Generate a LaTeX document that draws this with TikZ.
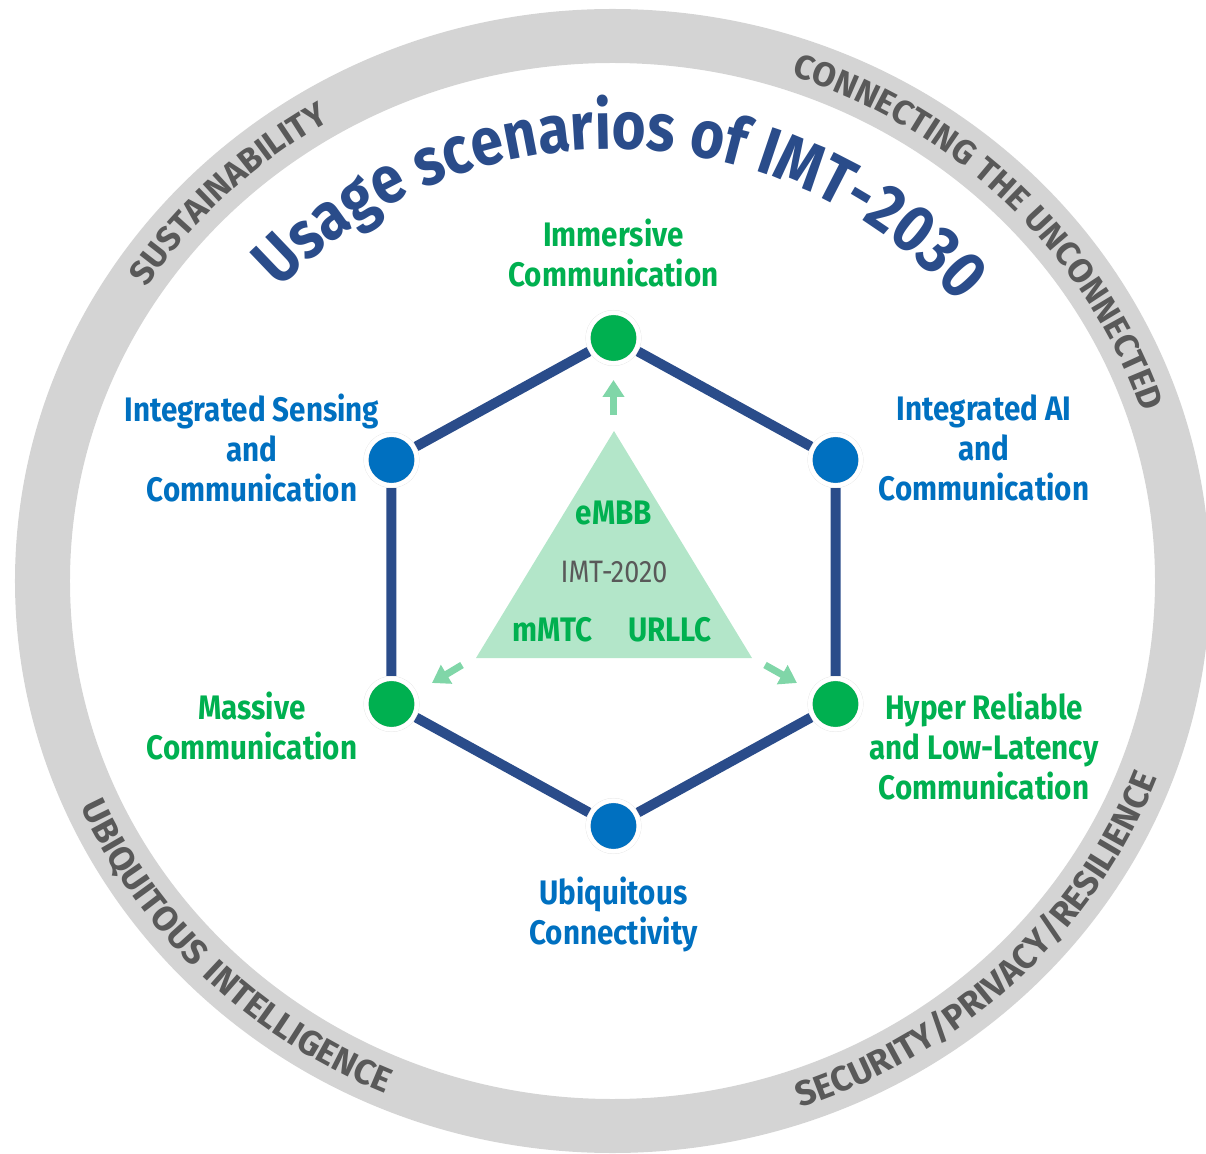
\documentclass[tikz,border=0pt]{standalone}
\usepackage{fontspec}
\setmainfont{Fira Sans}
\newfontfamily\narrowfont[FakeStretch=0.87]{Fira Sans}
\newfontfamily\ringface[LetterSpace=3]{Fira Sans}
\newfontfamily\ringfacewide[LetterSpace=8]{Fira Sans}
\usetikzlibrary{positioning, decorations.text, arrows.meta}

\definecolor{ringgray}{RGB}{212,212,212}
\definecolor{ringtext}{RGB}{89,89,89}
\definecolor{titleblue}{RGB}{42,76,138}
\definecolor{scenblue}{RGB}{0,112,192}
\definecolor{scengreen}{RGB}{0,176,80}
\definecolor{trifill}{RGB}{179,230,201}
\definecolor{growgreen}{RGB}{128,214,168}

\newcommand{\ringfont}{\ringface\bfseries\fontsize{34}{34}\selectfont}
\newcommand{\ringfontlow}{\ringfacewide\bfseries\fontsize{35}{35}\selectfont}
\newcommand{\titlefont}{\narrowfont\bfseries\fontsize{67}{67}\selectfont}

\tikzset{
  scen/.style={circle, fill=#1, draw=black!12, double=white, double distance=4.4pt,
               line width=0.3pt, outer sep=2.6pt, minimum size=51pt, inner sep=0pt},
  scenlabel/.style={text=#1, inner sep=0pt, align=center,
               font=\narrowfont\bfseries\fontsize{34}{40}\selectfont},
  hexedge/.style={draw=titleblue, line width=10pt},
  growarrow/.style={draw=growgreen, line width=7pt,
               -{Triangle[width=21pt,length=17pt]}},
  ringword/.style={decorate, decoration={text along path, text align=center,
               text color=ringtext, text={|\ringfont|#1}}},
  ringwordlow/.style={decorate, decoration={text along path, text align=center,
               text color=ringtext, text={|\ringfontlow|#1}}}
}

\begin{document}
\begin{tikzpicture}[x=1pt, y=1pt]

  \useasboundingbox (-612.5,-572) rectangle (593.5,581);

  % outer ring
  \fill[ringgray, even odd rule] (0,0) ellipse [x radius=597.5, y radius=572]
                                 (0,0) ellipse [x radius=542.5, y radius=518];

  % words on the ring
  \path[ringword=SUSTAINABILITY]
    ({558*cos(174)},{533.5*sin(174)}) arc[start angle=174, end angle=94, x radius=558, y radius=533.5];
  \path[ringword=CONNECTING THE UNCONNECTED]
    ({558*cos(89.5)},{533.5*sin(89.5)}) arc[start angle=89.5, end angle=-0.5, x radius=558, y radius=533.5];
  \path[ringwordlow=UBIQUITOUS INTELLIGENCE]
    ({582*cos(180)},{556.5*sin(180)}) arc[start angle=180, end angle=270, x radius=582, y radius=556.5];
  \path[ringwordlow=SECURITY/PRIVACY/RESILIENCE]
    ({582*cos(269.5)},{556.5*sin(269.5)}) arc[start angle=269.5, end angle=359.5, x radius=582, y radius=556.5];

  % title
  \path[decorate, decoration={text along path, text align=center, text color=titleblue,
        text={|\titlefont|Usage scenarios of IMT-2030}}]
    ({452*cos(148.7)},{432*sin(148.7)}) arc[start angle=148.7, end angle=28.7, x radius=452, y radius=432];

  % the six scenarios
  \node[scen=scengreen] (immersive) at (1,243) {};
  \node[scen=scenblue]  (sensing)   at (-221,121) {};
  \node[scen=scenblue]  (aicomm)    at (223,121) {};
  \node[scen=scengreen] (massive)   at (-221,-123) {};
  \node[scen=scengreen] (hrllc)     at (223,-123) {};
  \node[scen=scenblue]  (ubiq)      at (1,-245) {};

  \draw[hexedge] (immersive) -- (aicomm) -- (hrllc) -- (ubiq)
                 -- (massive) -- (sensing) -- (immersive);

  \node[scenlabel=scengreen, above=23pt of immersive] (immersivetxt)
    {Immersive\\Communication};
  \node[scenlabel=scenblue] (sensingtxt) at ([xshift=-139.5pt, yshift=12pt]sensing)
    {Integrated Sensing\\and\\Communication};
  \node[scenlabel=scenblue] (aicommtxt) at ([xshift=148.5pt, yshift=12pt]aicomm)
    {Integrated AI\\and\\Communication};
  \node[scenlabel=scengreen] (massivetxt) at ([xshift=-139.5pt, yshift=-21.5pt]massive)
    {Massive\\Communication};
  \node[scenlabel=scengreen] (hrllctxt) at ([xshift=148.5pt, yshift=-42pt]hrllc)
    {Hyper Reliable\\and Low-Latency\\Communication};
  \node[scenlabel=scenblue, below=23pt of ubiq] (ubiqtxt)
    {Ubiquitous\\Connectivity};

  % IMT-2020 triangle
  \coordinate (ttop)   at (1.5,150);
  \coordinate (tleft)  at (-136.5,-77);
  \coordinate (tright) at (139.5,-77);
  \fill[trifill] (ttop) -- (tleft) -- (tright) -- cycle;

  \node[scenlabel=scengreen] (embb) at (1.5,68) {eMBB};
  \node[text=ringtext, inner sep=0pt, font=\narrowfont\fontsize{31}{31}\selectfont]
    (imt) at (1.5,9) {IMT-2020};
  \node[scenlabel=scengreen] (mmtc)  at (-60,-49) {mMTC};
  \node[scenlabel=scengreen] (urllc) at (57.5,-49) {URLLC};

  % growth arrows
  \coordinate (upfoot)    at (1,166);
  \coordinate (uptip)     at (1,201);
  \coordinate (leftfoot)  at (-150.5,-84);
  \coordinate (lefttip)   at (-180.5,-102);
  \coordinate (rightfoot) at (152.5,-84);
  \coordinate (righttip)  at (184.5,-102);
  \draw[growarrow] (upfoot) -- (uptip);
  \draw[growarrow] (leftfoot) -- (lefttip);
  \draw[growarrow] (rightfoot) -- (righttip);

\end{tikzpicture}
\end{document}
